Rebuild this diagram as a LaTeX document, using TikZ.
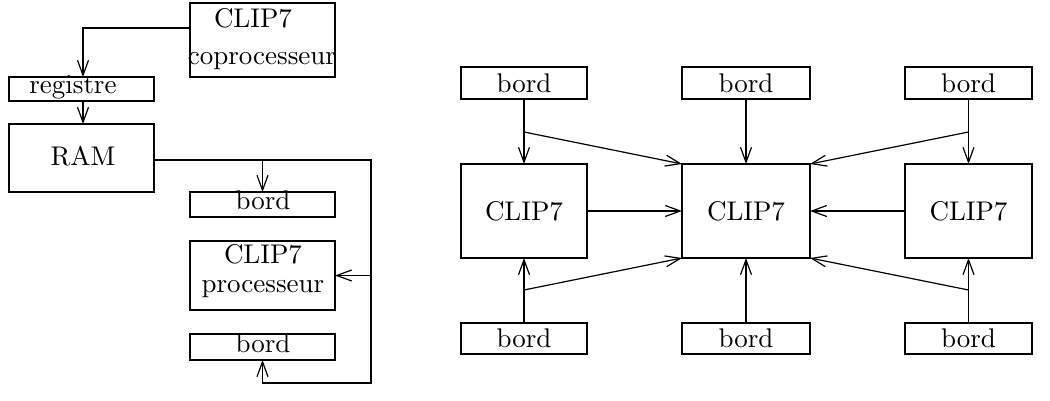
\documentclass[tikz,border=0pt]{standalone}
\usetikzlibrary{arrows.meta}
\font\bigf=cmr10 at 27pt
\begin{document}
\begin{tikzpicture}[x=1pt,y=-1pt,
  box/.style={draw, line width=1.2pt, inner sep=0pt, outer sep=0pt, font=\bigf},
  txt/.style={anchor=base, inner sep=0pt, font=\bigf},
  arr/.style={line width=1.2pt, -{Straight Barb[length=15pt,width=11pt,line width=1.2pt]}},
  ln/.style={line width=1.2pt}]
\useasboundingbox (0,0) rectangle (1050,401);
% ---------- left part ----------
\node[box, minimum width=145pt, minimum height=74pt] (cop) at (262.5,40) {};
\node[box, minimum width=145pt, minimum height=24pt] (reg) at (81.5,89) {};
\node[box, minimum width=145pt, minimum height=68pt] (ram) at (81.5,158) {};
\node[box, minimum width=145pt, minimum height=25pt] (lb1) at (262.5,204.5) {};
\node[box, minimum width=145pt, minimum height=69pt] (proc) at (262.5,275.5) {};
\node[box, minimum width=145pt, minimum height=26pt] (lb2) at (262.5,347) {};
\node[txt] (tcop1) at (253,28) {CLIP7};
\node[txt] (tcop2) at (262,65) {coprocesseur};
\node[txt] (treg) at (73,94) {registre};
\node[txt] (tram) at (83,165) {RAM};
\node[txt] (tlb1) at (263,209) {bord};
\node[txt] (tproc1) at (263,263) {CLIP7};
\node[txt] (tproc2) at (263,292) {processeur};
\node[txt] (tlb2) at (263,352) {bord};
\coordinate (ra) at (371,160);
\coordinate (rb) at (371,383);
\draw[arr] ([yshift=12pt]cop.west) -| ([xshift=1.5pt]reg.north);
\draw[arr] ([xshift=1.5pt]reg.south) -- ([xshift=1.5pt]ram.north);
\draw[arr] ([yshift=-2pt]ram.east) -- (ra) -- (rb) -| (lb2.south);
\draw[arr] (lb1.north |- ra) -- (lb1.north);
\draw[arr] (ra |- proc.east) -- (proc.east);
% ---------- right part ----------
\node[box, minimum width=126pt, minimum height=32pt] (tb1) at (524,83) {bord};
\node[box, minimum width=128pt, minimum height=32pt] (tb2) at (746,83) {bord};
\node[box, minimum width=127pt, minimum height=32pt] (tb3) at (968.5,83) {bord};
\node[box, minimum width=126pt, minimum height=94pt] (c1) at (524,211) {CLIP7};
\node[box, minimum width=128pt, minimum height=94pt] (c2) at (746,211) {CLIP7};
\node[box, minimum width=127pt, minimum height=94pt] (c3) at (968.5,211) {CLIP7};
\node[box, minimum width=126pt, minimum height=31pt] (bb1) at (524,338.5) {bord};
\node[box, minimum width=128pt, minimum height=31pt] (bb2) at (746,338.5) {bord};
\node[box, minimum width=127pt, minimum height=31pt] (bb3) at (968.5,338.5) {bord};
\coordinate (p1) at (524,132);
\coordinate (p3) at (968.5,132);
\coordinate (p4) at (524,290);
\coordinate (p6) at (968.5,290);
\draw[arr] (tb1) -- (c1);
\draw[arr] (tb2) -- (c2);
\draw[arr] (tb3) -- (c3);
\draw[arr] (p1) -- (c2.north west);
\draw[arr] (p3) -- (c2.north east);
\draw[arr] (c1) -- (c2);
\draw[arr] (c3) -- (c2);
\draw[arr] (bb1) -- (c1);
\draw[arr] (bb2) -- (c2);
\draw[arr] (bb3) -- (c3);
\draw[arr] (p4) -- (c2.south west);
\draw[arr] (p6) -- (c2.south east);
\end{tikzpicture}
\end{document}
